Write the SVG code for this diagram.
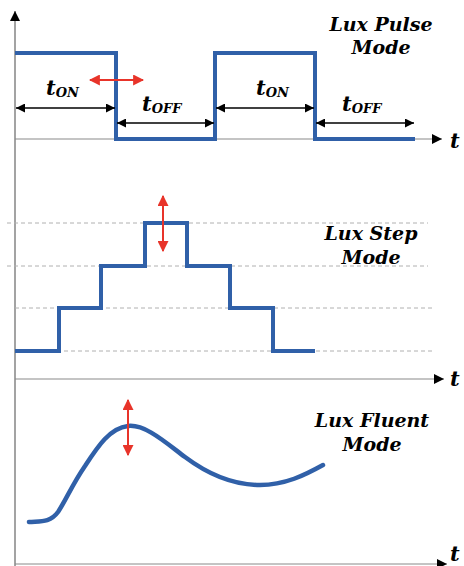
<svg xmlns="http://www.w3.org/2000/svg" width="464" height="566" viewBox="0 0 464 566">
<style>
.axis{stroke:#8a8a8a;stroke-width:1.2;fill:none}
.vaxis{stroke:#666;stroke-width:1.2;fill:none}
.sig{stroke:#3060a8;stroke-width:4;fill:none;stroke-linejoin:miter}
.curve{stroke:#3060a8;stroke-width:4.5;fill:none;stroke-linecap:round}
.dash{stroke:#b0b0b0;stroke-width:1;stroke-dasharray:4 3;fill:none}
.dim{stroke:#000;stroke-width:1.5;fill:none}
.red{stroke:#e8342a;stroke-width:2;fill:none}
.title{font-family:"DejaVu Serif","Liberation Serif",serif;font-weight:700;font-style:italic;font-size:19px;fill:#000;text-anchor:middle}
.lbl{font-family:"DejaVu Serif","Liberation Serif",serif;font-weight:700;font-style:italic;font-size:21px;fill:#000}
.sub{font-size:13px}
</style>
<defs>
<marker id="ah" viewBox="0 0 10 10" refX="10" refY="5" markerWidth="10" markerHeight="10" markerUnits="userSpaceOnUse" orient="auto-start-reverse"><path d="M0,0 L10,5 L0,10 z" fill="#000"/></marker>
<marker id="dh" viewBox="0 0 10 10" refX="10" refY="5" markerWidth="10" markerHeight="9" markerUnits="userSpaceOnUse" orient="auto-start-reverse"><path d="M0,0 L10,5 L0,10 z" fill="#000"/></marker>
<marker id="rh" viewBox="0 0 10 10" refX="9" refY="5" markerWidth="11" markerHeight="11" markerUnits="userSpaceOnUse" orient="auto-start-reverse"><path d="M0,0 L10,5 L0,10 z" fill="#e8342a"/></marker>
</defs>

<g id="axes">
<line class="vaxis" x1="15" y1="566" x2="15" y2="11" marker-end="url(#ah)"/>
<line class="axis" x1="15" y1="139" x2="442" y2="139" marker-end="url(#ah)"/>
<line class="axis" x1="15" y1="379" x2="444" y2="379" marker-end="url(#ah)"/>
<line class="axis" x1="15" y1="564" x2="447" y2="564" marker-end="url(#ah)"/>
<text class="lbl" x="450" y="148">t</text>
<text class="lbl" x="450" y="386">t</text>
<text class="lbl" x="450" y="561">t</text>
</g>

<g id="pulse-mode">
<polyline class="sig" points="15,53 116,53 116,139 215,139 215,53 315,53 315,139 415,139"/>
<line class="red" x1="90" y1="80" x2="143" y2="80" marker-start="url(#rh)" marker-end="url(#rh)"/>
<g id="connectors-pulse">
<line class="dim" x1="16" y1="108" x2="115" y2="108" marker-start="url(#dh)" marker-end="url(#dh)"/>
<line class="dim" x1="117" y1="123" x2="214" y2="123" marker-start="url(#dh)" marker-end="url(#dh)"/>
<line class="dim" x1="216" y1="108" x2="314" y2="108" marker-start="url(#dh)" marker-end="url(#dh)"/>
<line class="dim" x1="316" y1="123" x2="414" y2="123" marker-start="url(#dh)" marker-end="url(#dh)"/>
</g>
<text class="lbl" x="46" y="95">t<tspan class="sub" dy="2">ON</tspan></text>
<text class="lbl" x="142" y="111">t<tspan class="sub" dy="2">OFF</tspan></text>
<text class="lbl" x="256" y="95">t<tspan class="sub" dy="2">ON</tspan></text>
<text class="lbl" x="342" y="111">t<tspan class="sub" dy="2">OFF</tspan></text>
<text class="title" x="381" y="31">Lux Pulse</text>
<text class="title" x="381" y="54">Mode</text>
</g>

<g id="step-mode">
<line class="dash" x1="7" y1="223" x2="428" y2="223"/>
<line class="dash" x1="7" y1="266" x2="428" y2="266"/>
<line class="dash" x1="15" y1="308" x2="435" y2="308"/>
<line class="dash" x1="15" y1="351" x2="435" y2="351"/>
<polyline class="sig" points="15,351 59,351 59,308 101,308 101,266 145,266 145,223 187,223 187,266 230,266 230,308 273,308 273,351 315,351"/>
<line class="red" x1="163" y1="196" x2="163" y2="251" marker-start="url(#rh)" marker-end="url(#rh)"/>
<text class="title" x="371" y="240">Lux Step</text>
<text class="title" x="371" y="264">Mode</text>
</g>

<g id="fluent-mode">
<path class="curve" d="M29,522 C40,521 50,523 58,512 C66,500 72,485 85,466 C98,446 110,428 128,426 C145,424 165,442 185,457 C205,472 230,485 260,485 C285,485 305,475 323,465"/>
<line class="red" x1="128" y1="400" x2="128" y2="455" marker-start="url(#rh)" marker-end="url(#rh)"/>
<text class="title" x="372" y="427">Lux Fluent</text>
<text class="title" x="372" y="451">Mode</text>
</g>
</svg>
